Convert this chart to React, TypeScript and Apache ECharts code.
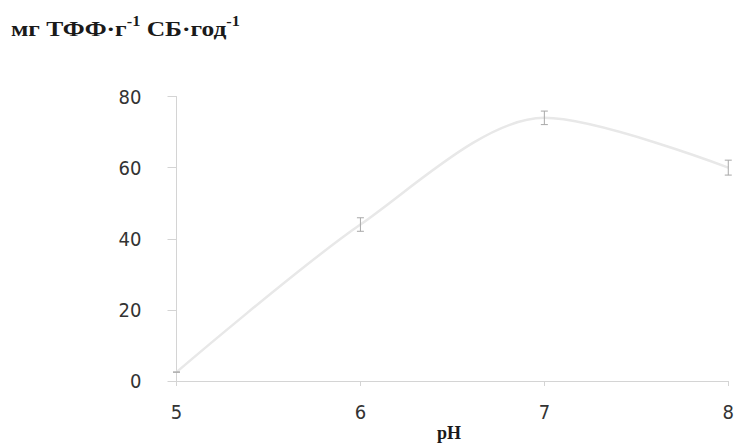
import React, { useEffect, useRef } from "react";
import * as echarts from "echarts";

const phValues = [5, 6, 7, 8];
const activity = [2.5, 44, 74, 60];
const errors = [0, 1.9, 1.9, 2.1];
const yTicks = { min: 0, max: 80, interval: 20 };
const xTicks = { min: 5, max: 8, interval: 1 };
const titleParts = ["мг ТФФ·г", "-1", " СБ·год", "-1"];
const xName = "pH";

export default function App() {
  const ref = useRef<HTMLDivElement>(null);
  useEffect(() => {
    if (!ref.current) return;
    const chart = echarts.init(ref.current, undefined, { renderer: "svg" });
    const lineData = phValues.map((x, i) => [x, activity[i]]);
    const errData = phValues.map((x, i) => [x, activity[i] - errors[i], activity[i] + errors[i]]);
    const labelFont = '"DejaVu Sans Condensed", "Liberation Sans Narrow", "Arial Narrow", sans-serif';
    const serif = '"Liberation Serif", "Times New Roman", serif';
    chart.setOption({
      animation: false,
      backgroundColor: "#ffffff",
      grid: { left: 176.5, right: 4, top: 96.5, bottom: 63 },
      graphic: [
        {
          type: "text",
          x: 11,
          y: 14,
          scaleX: 1.16,
          style: {
            text: `{a|${titleParts[0]}}{s|${titleParts[1]}}{a|${titleParts[2]}}{s|${titleParts[3]}}`,
            rich: {
              a: { fontFamily: serif, fontWeight: "bold", fontSize: 22, fill: "#1a1a1a", verticalAlign: "bottom", lineHeight: 26 },
              s: { fontFamily: serif, fontWeight: "bold", fontSize: 14, fill: "#1a1a1a", verticalAlign: "top", padding: [0, 0, 10, 0], lineHeight: 26 },
            },
          },
        },
        {
          type: "text",
          x: 437,
          y: 424,
          style: {
            text: xName,
            fontFamily: serif,
            fontWeight: "bold",
            fontSize: 18,
            fill: "#1a1a1a",
          },
        },
      ],
      xAxis: {
        type: "value",
        min: xTicks.min,
        max: xTicks.max,
        interval: xTicks.interval,
        splitLine: { show: false },
        axisLine: { show: true, onZero: false, lineStyle: { color: "#d4d4d4", width: 1 } },
        axisTick: { show: true, inside: false, length: 5, lineStyle: { color: "#d4d4d4" } },
        axisLabel: { color: "#333", fontSize: 20, fontFamily: labelFont, margin: 21 },
      },
      yAxis: {
        type: "value",
        min: yTicks.min,
        max: yTicks.max,
        interval: yTicks.interval,
        splitLine: { show: false },
        axisLine: { show: true, lineStyle: { color: "#d4d4d4", width: 1 } },
        axisTick: { show: true, length: 9, lineStyle: { color: "#d4d4d4" } },
        axisLabel: { color: "#333", fontSize: 20, fontFamily: labelFont, margin: 35 },
      },
      series: [
        {
          type: "line",
          data: lineData,
          smooth: 0.3,
          symbol: "none",
          lineStyle: { color: "#e8e8e8", width: 2.5 },
          z: 2,
        },
        {
          type: "custom",
          data: errData,
          z: 3,
          renderItem: (params: any, api: any) => {
            const x = api.value(0);
            const lo = api.coord([x, api.value(1)]);
            const hi = api.coord([x, api.value(2)]);
            const w = 3.5;
            const style = { stroke: "#a8a8a8", lineWidth: 1, fill: "none" };
            return {
              type: "group",
              children: [
                { type: "line", shape: { x1: lo[0], y1: lo[1], x2: hi[0], y2: hi[1] }, style },
                { type: "line", shape: { x1: lo[0] - w, y1: lo[1], x2: lo[0] + w, y2: lo[1] }, style },
                { type: "line", shape: { x1: hi[0] - w, y1: hi[1], x2: hi[0] + w, y2: hi[1] }, style },
              ],
            };
          },
        },
      ],
    });
    return () => chart.dispose();
  }, []);
  return (
    <div
      ref={ref}
      style={{ position: "fixed", left: 0, top: 0, width: 737, height: 444 }}
    />
  );
}
